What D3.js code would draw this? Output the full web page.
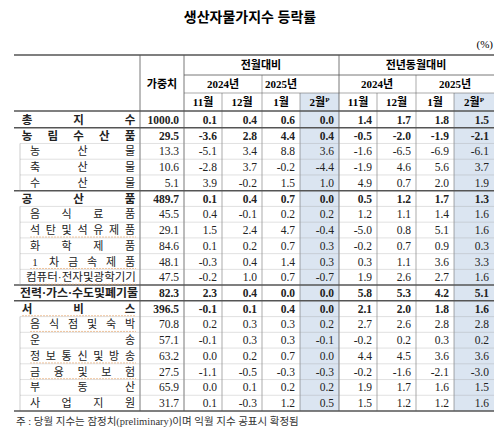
<!DOCTYPE html>
<html><head><meta charset="utf-8">
<script src="https://cdn.jsdelivr.net/npm/d3@7"></script>
<style>body{margin:0;background:#fff}svg{font-family:"Liberation Serif","Noto Sans CJK KR",serif}</style>
</head><body><svg id="svg" width="500" height="434"></svg>
<script>
const labels = ["총지수","농림수산품","농산물","축산물","수산물","공산품","음식료품","석탄및석유제품","화학제품","1차금속제품","컴퓨터·전자및광학기기","전력·가스·수도및폐기물","서비스","음식점및숙박","운송","정보통신및방송","금융및보험","부동산","사업지원"];
const level = [0,0,1,1,1,0,1,1,1,1,1,0,0,1,1,1,1,1,1];
const weights = ["1000.0","29.5","13.3","10.6","5.1","489.7","45.5","29.1","84.6","48.1","47.5","82.3","396.5","70.8","57.1","63.2","27.5","65.9","31.7"];
const momNov = ["0.1","-3.6","-5.1","-2.8","3.9","0.1","0.4","1.5","0.1","-0.3","-0.2","2.3","-0.1","0.2","-0.1","0.0","-1.1","0.0","0.1"];
const momDec = ["0.4","2.8","3.4","3.7","-0.2","0.4","-0.1","2.4","0.2","0.4","1.0","0.4","0.1","0.3","0.3","0.2","-0.5","0.1","-0.3"];
const momJan = ["0.6","4.4","8.8","-0.2","1.5","0.7","0.2","4.7","0.7","1.4","0.7","0.0","0.4","0.3","0.3","0.7","-0.3","0.2","1.2"];
const momFeb = ["0.0","0.4","3.6","-4.4","1.0","0.0","0.2","-0.4","0.3","0.3","-0.7","0.0","0.0","0.2","-0.1","0.0","-0.3","0.2","0.5"];
const yoyNov = ["1.4","-0.5","-1.6","-1.9","4.9","0.5","1.2","-5.0","-0.2","0.3","1.9","5.8","2.1","2.7","-0.2","4.4","-0.2","1.9","1.5"];
const yoyDec = ["1.7","-2.0","-6.5","4.6","0.7","1.2","1.1","0.8","0.7","1.1","2.6","5.3","2.0","2.6","0.2","4.5","-1.6","1.7","1.2"];
const yoyJan = ["1.8","-1.9","-6.9","5.6","2.0","1.7","1.4","5.1","0.9","3.6","2.7","4.2","1.8","2.8","0.3","3.6","-2.1","1.6","1.2"];
const yoyFeb = ["1.5","-2.1","-6.1","3.7","1.9","1.3","1.6","1.6","0.3","3.3","1.6","5.1","1.6","2.8","0.2","3.6","-3.0","1.5","1.6"];
const monthLabels = ["11월","12월","1월","2월"];
const underlined = ["석탄및석유제품","1차금속제품","컴퓨터·전자및광학기기","서비스","음식점및숙박","정보통신및방송","금융및보험"];

const svg = d3.select("#svg");
const cols = [[14,140],[140,184],[184,222],[222,262],[262,300],[300,339],[339,377],[377,416],[416,454],[454,494]];
const x0 = d => cols[d][0], x1 = d => cols[d][1], xc = d => (cols[d][0]+cols[d][1])/2;
const y = d3.scaleBand().domain(d3.range(labels.length)).range([112, 411]);
const yTop = 55, h1 = 75, h2 = 93, h3 = 111;
const shade = "#dbe5f1", line = "#555";

// shading for latest month
[5, 9].forEach(c => svg.append("rect").attr("x", x0(c)).attr("y", h2).attr("width", x1(c)-x0(c)).attr("height", y.range()[1]-h2).attr("fill", shade));

svg.append("text").attr("x", 250).attr("y", 22).attr("text-anchor", "middle").attr("font-size", 14).attr("font-weight", "bold").text("생산자물가지수 등락률");
svg.append("text").attr("x", 493).attr("y", 48).attr("text-anchor", "end").attr("font-size", 11).text("(%)");

const hl = (xa, xb, yy, w) => svg.append("line").attr("x1", xa).attr("x2", xb).attr("y1", yy).attr("y2", yy).attr("stroke", line).attr("stroke-width", w || 0.8);
const vl = (xx, ya, yb, w) => svg.append("line").attr("x1", xx).attr("x2", xx).attr("y1", ya).attr("y2", yb).attr("stroke", line).attr("stroke-width", w || 0.8);

hl(14, 494, yTop, 1.5);
hl(184, 494, h1); hl(184, 494, h2, 0.5);
hl(14, 494, h3, 1.5);
vl(140, yTop, y.range()[1]); vl(184, yTop, y.range()[1]); vl(339, yTop, y.range()[1]);
[222,262,300,377,416,454].forEach(xx => vl(xx, h2, y.range()[1], 0.5));
vl(262, h1, h2, 0.5); vl(416, h1, h2, 0.5);

const hdr = (xx, yy, t) => svg.append("text").attr("x", xx).attr("y", yy).attr("text-anchor", "middle").attr("font-size", 11).attr("font-weight", "bold").text(t);
hdr(162, 88, "가중치");
hdr(261, 69, "전월대비"); hdr(416, 69, "전년동월대비");
hdr(223, 88, "2024년"); hdr(281, 88, "2025년"); hdr(377, 88, "2024년"); hdr(455, 88, "2025년");
[2,3,4,5,6,7,8,9].forEach((c, i) => {
  const t = hdr(xc(c), 106, monthLabels[i % 4]);
  if (i % 4 === 3) t.append("tspan").attr("font-size", 7).attr("dy", -4).text("P");
});

// group separators
labels.forEach((l, i) => {
  const yy = y(i);
  if (i > 0 && level[i] === 0) hl(14, 494, yy, 1.5);
  else if (i > 0) hl(20, 494, yy, 0.3).attr("stroke", "#999");
});
labels.forEach((l, i) => { if (level[i] === 1) vl(20, y(i), y(i) + y.bandwidth(), 0.5).attr("stroke", "#999"); });
hl(14, 494, y.range()[1], 1.5);

// labels spread across the cell like the original
labels.forEach((l, i) => {
  const chars = Array.from(l);
  const xa = level[i] ? 30 : 22, xb = 136;
  const yy = y(i) + y.bandwidth() / 2 + 4;
  const g = svg.append("g").attr("font-size", level[i] ? 11 : 11.5).attr("font-weight", level[i] ? "normal" : "bold").attr("fill", "#222");
  if (chars.length >= 9) {
    g.append("text").attr("x", xa - (level[i] ? 4 : 2)).attr("y", yy).attr("textLength", xb - xa + 4).attr("lengthAdjust", "spacingAndGlyphs").text(l);
  } else {
    const sx = d3.scalePoint().domain(d3.range(chars.length)).range([xa + 5, xb - 6]);
    g.selectAll("text").data(chars).join("text").attr("x", (d, k) => sx(k)).attr("y", yy).attr("text-anchor", "middle").text(d => d);
  }
  if (underlined.includes(l)) hl(xa, xb, yy + 3, 0.6).attr("stroke", "#e8a060").attr("stroke-dasharray", "2,1");
});

const series = [weights, momNov, momDec, momJan, momFeb, yoyNov, yoyDec, yoyJan, yoyFeb];
series.forEach((s, si) => {
  const c = si + 1;
  svg.append("g").selectAll("text").data(s).join("text")
    .attr("x", x1(c) - 5).attr("y", (d, i) => y(i) + y.bandwidth() / 2 + 4)
    .attr("text-anchor", "end").attr("font-size", 11.5)
    .attr("font-weight", (d, i) => level[i] ? "normal" : "bold").attr("fill", "#222").text(d => d);
});

svg.append("text").attr("x", 16).attr("y", 425).attr("font-size", 10.5).attr("fill", "#333")
  .text("주 : 당월 지수는 잠정치(preliminary)이며 익월 지수 공표시 확정됨");
</script></body></html>
